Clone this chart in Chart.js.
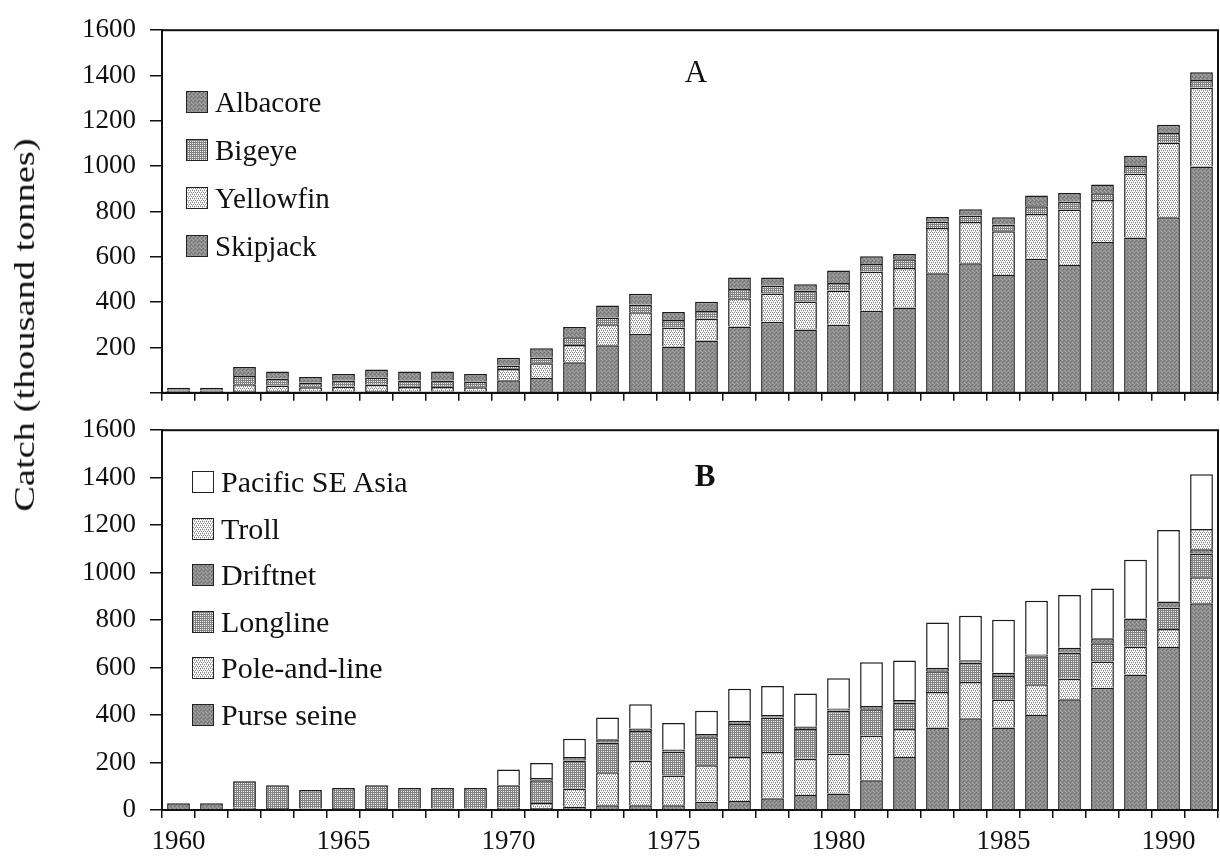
<!DOCTYPE html>
<html lang="en">
<head>
    <meta charset="UTF-8">
    <title>Tuna catch by species and gear</title>
    <script src="https://cdn.jsdelivr.net/npm/chart.js"></script>
    <style>
        body { margin: 0; background: #ffffff; }
        #wrap {
            position: relative;
            width: 1220px;
            height: 857px;
            font-family: "Liberation Serif", "DejaVu Serif", serif;
            color: #111;
        }
        #chartA { position: absolute; left: 0; top: 0; z-index: 2; }
        #chartB { position: absolute; left: 0; top: 400px; z-index: 1; }
        .ytitle {
            position: absolute;
            left: 24px;
            top: 325px;
            transform: translate(-50%, -50%) rotate(-90deg) scaleX(1.28);
            white-space: nowrap;
            font-size: 30px;
            z-index: 3;
        }
        .panel {
            position: absolute;
            font-size: 31px;
            transform: translate(-50%, -50%);
            z-index: 3;
        }
        .legend { position: absolute; z-index: 3; }
        .legend .item { display: flex; align-items: center; }
        .legend canvas { border: 1.5px solid #222; margin-right: 7px; }
    </style>
</head>
<body>
<div id="wrap">
    <canvas id="chartA" width="1220" height="423"></canvas>
    <canvas id="chartB" width="1220" height="457"></canvas>
    <div class="ytitle">Catch (thousand tonnes)</div>
    <div class="panel" style="left:696px; top:72px;">A</div>
    <div class="panel" style="left:705px; top:476px; font-weight:bold;">B</div>
    <div class="legend" id="legendA" style="left:186px; top:78px; font-size:29px;"></div>
    <div class="legend" id="legendB" style="left:192px; top:459px; font-size:30px;"></div>
</div>

<script>
    // years on the x axis
    const years = ['1960','1961','1962','1963','1964','1965','1966','1967','1968','1969',
                   '1970','1971','1972','1973','1974','1975','1976','1977','1978','1979',
                   '1980','1981','1982','1983','1984','1985','1986','1987','1988','1989',
                   '1990','1991'];

    // Panel A - by species (thousand tonnes)
    const skipjack  = [10,10,8,8,6,6,8,6,6,6, 55,65,135,210,259,204,231,293,314,279, 300,362,376,527,572,520,592,564,665,685, 775,999];
    const yellowfin = [0,0,30,24,18,22,28,20,20,18, 50,65,76,92,96,83,96,124,124,124, 151,172,175,200,182,193,197,245,186,282, 330,347];
    const bigeye    = [0,0,36,30,22,25,32,28,28,25, 15,25,34,30,34,34,34,41,34,48, 34,34,38,28,28,28,34,34,30,34, 41,34];
    const albacore  = [12,12,40,32,24,30,35,40,40,34, 35,42,45,53,48,35,41,51,37,28, 55,34,23,21,28,34,48,39,38,45, 37,34];

    // Panel B - by gear (thousand tonnes)
    const purseSeine   = [28,28,10,8,6,8,8,6,6,6, 10,8,14,20,20,20,35,38,49,63, 70,125,223,348,386,348,400,467,515,571, 687,871];
    const poleAndLine  = [0,0,0,0,0,0,0,0,0,0, 0,22,77,139,188,125,153,185,195,153, 167,188,118,149,153,118,130,86,111,118, 75,109];
    const longline     = [0,0,111,96,78,85,96,87,87,87, 94,95,118,125,125,100,118,139,146,125, 181,111,111,88,81,98,118,109,77,72, 90,100];
    const driftnet     = [0,0,0,0,0,0,0,0,0,0, 0,10,14,14,10,10,14,14,10,11, 10,14,11,14,11,14,7,21,21,46, 26,18];
    const troll        = [0,0,0,0,0,0,0,0,0,0, 0,0,0,0,0,0,0,0,0,0, 0,0,0,0,0,0,0,0,0,0, 0,86];
    const pacificSEAsia = [0,0,0,0,0,0,0,0,0,0, 67,63,77,92,102,111,98,135,122,139, 127,184,167,191,187,223,227,223,209,247, 302,230];

    const yTicks = [0, 200, 400, 600, 800, 1000, 1200, 1400, 1600];

    const serif = '"Liberation Serif", "DejaVu Serif", serif';
    const ink = '#111';

    // fill textures imitating the printed shading
    function makePattern(kind) {
        const c = document.createElement('canvas');
        c.width = 4; c.height = 4;
        const g = c.getContext('2d');
        if (kind === 'dark') {
            g.fillStyle = '#8c8c8c'; g.fillRect(0, 0, 4, 4);
            g.fillStyle = '#737373'; g.fillRect(0, 0, 1, 1); g.fillRect(2, 2, 1, 1); g.fillRect(3, 1, 1, 1);
            g.fillStyle = '#a3a3a3'; g.fillRect(2, 0, 1, 1); g.fillRect(0, 2, 1, 1); g.fillRect(1, 3, 1, 1);
        } else if (kind === 'cross') {
            g.fillStyle = '#828282'; g.fillRect(0, 0, 4, 4);
            g.fillStyle = '#f2f2f2';
            g.fillRect(1, 1, 1, 1); g.fillRect(3, 3, 1, 1); g.fillRect(1, 3, 1, 1); g.fillRect(3, 1, 1, 1);
        } else if (kind === 'dots') {
            g.fillStyle = '#ffffff'; g.fillRect(0, 0, 4, 4);
            g.fillStyle = '#8a8a8a';
            g.fillRect(0, 0, 1, 1); g.fillRect(2, 0, 1, 1); g.fillRect(1, 2, 1, 1); g.fillRect(3, 2, 1, 1);
            g.fillStyle = '#b5b5b5';
            g.fillRect(1, 1, 1, 1); g.fillRect(3, 3, 1, 1);
        } else {
            g.fillStyle = '#ffffff'; g.fillRect(0, 0, 4, 4);
        }
        return g.createPattern(c, 'repeat');
    }

    const pat = {
        dark: makePattern('dark'),
        cross: makePattern('cross'),
        dots: makePattern('dots'),
        white: makePattern('white')
    };

    // stacked bottom to top
    const seriesA = [
        { label: 'Skipjack',  data: skipjack,  fill: 'dark' },
        { label: 'Yellowfin', data: yellowfin, fill: 'dots' },
        { label: 'Bigeye',    data: bigeye,    fill: 'cross' },
        { label: 'Albacore',  data: albacore,  fill: 'dark' }
    ];
    const seriesB = [
        { label: 'Purse seine',     data: purseSeine,    fill: 'dark' },
        { label: 'Pole-and-line',   data: poleAndLine,   fill: 'dots' },
        { label: 'Longline',        data: longline,      fill: 'cross' },
        { label: 'Driftnet',        data: driftnet,      fill: 'dark' },
        { label: 'Troll',           data: troll,         fill: 'dots' },
        { label: 'Pacific SE Asia', data: pacificSEAsia, fill: 'white' }
    ];

    const framePlugin = {
        id: 'frame',
        afterDraw(chart) {
            const { ctx, chartArea: a } = chart;
            ctx.save();
            ctx.strokeStyle = ink;
            ctx.lineWidth = 2;
            ctx.strokeRect(a.left, a.top, a.right - a.left, a.bottom - a.top);
            ctx.restore();
        }
    };

    function makeDatasets(series) {
        return series.map(s => ({
            label: s.label,
            data: s.data,
            backgroundColor: pat[s.fill],
            borderColor: '#1a1a1a',
            borderWidth: 1.5,
            categoryPercentage: 1.0,
            barPercentage: 0.69
        }));
    }

    function makeOptions(showYears, padTop, xHeight, hideZero) {
        return {
            responsive: false,
            maintainAspectRatio: false,
            animation: false,
            layout: { padding: { top: padTop, right: 2, left: 0, bottom: 0 } },
            plugins: { legend: { display: false }, tooltip: { enabled: false } },
            scales: {
                x: {
                    stacked: true,
                    grid: { offset: true, drawOnChartArea: false, tickLength: 8, color: ink, lineWidth: 1.5 },
                    border: { color: ink, width: 2 },
                    ticks: {
                        autoSkip: false,
                        maxRotation: 0,
                        padding: 8,
                        color: ink,
                        font: { family: serif, size: 27 },
                        callback: function (v) {
                            const y = this.getLabelForValue(v);
                            return (showYears && Number(y) % 5 === 0) ? y : '';
                        }
                    },
                    afterFit: s => { s.height = xHeight; }
                },
                y: {
                    stacked: true,
                    min: yTicks[0],
                    max: yTicks[yTicks.length - 1],
                    afterBuildTicks: s => { s.ticks = yTicks.map(v => ({ value: v })); },
                    grid: { drawOnChartArea: false, tickLength: 12, color: ink, lineWidth: 1.5 },
                    border: { color: ink, width: 2 },
                    ticks: {
                        padding: 14,
                        color: ink,
                        font: { family: serif, size: 27 },
                        callback: v => (hideZero && v === 0) ? '' : v
                    },
                    afterFit: s => { s.width = 162; }
                }
            }
        };
    }

    new Chart(document.getElementById('chartA'), {
        type: 'bar',
        data: { labels: years, datasets: makeDatasets(seriesA) },
        options: makeOptions(false, 25, 10, true),
        plugins: [framePlugin]
    });

    new Chart(document.getElementById('chartB'), {
        type: 'bar',
        data: { labels: years, datasets: makeDatasets(seriesB) },
        options: makeOptions(true, 23, 47, false),
        plugins: [framePlugin]
    });

    // legends, listed top to bottom as in the stack
    function buildLegend(id, series, rowHeight) {
        const box = document.getElementById(id);
        series.slice().reverse().forEach(s => {
            const row = document.createElement('div');
            row.className = 'item';
            row.style.height = rowHeight + 'px';
            const sw = document.createElement('canvas');
            sw.width = 20; sw.height = 20;
            const g = sw.getContext('2d');
            g.fillStyle = pat[s.fill];
            g.fillRect(0, 0, 20, 20);
            const txt = document.createElement('span');
            txt.textContent = s.label;
            row.appendChild(sw);
            row.appendChild(txt);
            box.appendChild(row);
        });
    }
    buildLegend('legendA', seriesA, 48);
    buildLegend('legendB', seriesB, 46.5);
</script>
</body>
</html>
